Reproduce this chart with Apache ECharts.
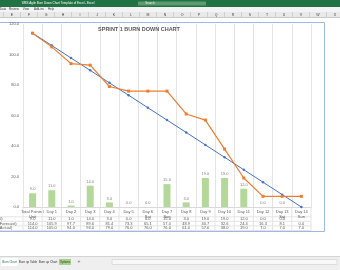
<!DOCTYPE html>
<html><head><meta charset="utf-8">
<script src="https://cdn.jsdelivr.net/npm/echarts@6/dist/echarts.min.js"></script>
<style>html,body{margin:0;padding:0;background:#fff;overflow:hidden}#c{width:340px;height:270px}</style>
</head><body><div id="c"></div>
<script>
const categories = ['Total Points /\nUnit','Day 1','Day 2','Day 3','Day 4','Day 5','Day 6\nSat','Day 7\nSun','Day 8','Day 9','Day 10','Day 11','Day 12','Day 13\nSat','Day 14\nSun'];
const pointsDone = [9, 11, 1, 14, 3, 0, 0, 15, 3, 19, 19, 12, 0, 0, null];
const remainingForecast = [114.0, 105.9, 97.7, 89.6, 81.4, 73.3, 65.1, 57.0, 48.9, 40.7, 32.6, 24.4, 16.3, 8.1, 0.0];
const remainingActual = [114, 105, 94, 93, 79, 76, 76, 76, 61, 57, 38, 19, 7, 7, 7];
const yTicks = [0, 20, 40, 60, 80, 100, 120];
const rowLabels = ['Points Done (Actual)', 'Points Remaining (Forecast)', 'Points Remaining (Actual)'];
const chartTitle = 'SPRINT 1 BURN DOWN CHART';
const columnLetters = ['E','F','G','H','I','J','K','L','M','N','O','P','Q','R','S','T','U','V','W','X'];
const ribbonTabs = ['Data','Review','View','Add-ins','Help'];
const sheetTabs = ['Burn Chart','Burn up Table','Burn up Chart','Options'];
const windowTitle = 'WBS Agile Burn Down Chart Template of Excel - Excel';

const FONT = 'Liberation Sans';
const GREY = '#595959';
const chart = echarts.init(document.getElementById('c'), null, {renderer: 'canvas'});
const fmt = v => (v == null ? '' : Number(v).toFixed(1));

chart.setOption({
  animation: false,
  backgroundColor: '#ffffff',
  grid: {left: 23, right: 29, top: 24, bottom: 63},
  xAxis: {
    type: 'category', data: categories, boundaryGap: true,
    axisLine: {show: true, lineStyle: {color: '#d9d9d9', width: 1}},
    axisTick: {show: false},
    splitLine: {show: true, lineStyle: {color: '#e4e4e4', width: 1}},
    axisLabel: {fontSize: 4, lineHeight: 4.5, color: GREY, margin: 3, fontFamily: FONT, interval: 0}
  },
  yAxis: {
    type: 'value', min: yTicks[0], max: yTicks[yTicks.length - 1], interval: yTicks[1] - yTicks[0],
    axisLine: {show: false}, axisTick: {show: false}, splitLine: {show: false},
    axisLabel: {fontSize: 4, color: GREY, margin: 4, fontFamily: FONT, formatter: v => v.toFixed(1)}
  },
  series: [
    {type: 'bar', name: rowLabels[0], data: pointsDone, barWidth: 7,
     itemStyle: {color: '#b3d89a'},
     label: {show: true, position: 'top', distance: 2, fontSize: 4, color: '#7f7f7f', fontFamily: FONT,
             formatter: p => fmt(p.value)}},
    {type: 'line', name: rowLabels[1], data: remainingForecast, symbol: 'circle', symbolSize: 2.5,
     lineStyle: {color: '#4472c4', width: 1}, itemStyle: {color: '#4472c4'}},
    {type: 'line', name: rowLabels[2], data: remainingActual, symbol: 'rect', symbolSize: 3,
     lineStyle: {color: '#ed7d31', width: 1.2}, itemStyle: {color: '#ed7d31'}}
  ]
});

// ---- graphics: Excel chrome, title, data table ----
const g = [];
const txt = (x, y, s, o) => g.push(Object.assign({type: 'text', silent: true, x, y,
  style: Object.assign({text: s, fontSize: 4, fontFamily: FONT, fill: GREY, align: 'center', verticalAlign: 'middle'}, o || {})}));
const line = (x1, y1, x2, y2, c, w) => g.push({type: 'line', silent: true,
  shape: {x1, y1, x2, y2}, style: {stroke: c, lineWidth: w || 1}});
const rect = (x, y, w, h, fill, stroke) => g.push({type: 'rect', silent: true,
  shape: {x, y, width: w, height: h}, style: {fill, stroke: stroke || null, lineWidth: 1}});

// window title bar
rect(0, 0, 340, 7, '#217346');
txt(58, 3.5, windowTitle, {fill: '#ffffff', fontSize: 3});
rect(138, 1.5, 68, 4, '#5e9b70');
txt(150, 3.5, 'Search', {fill: '#e8f2eb', fontSize: 3});
// ribbon tabs
rect(0, 7, 340, 5, '#f3f3f3');
const ribX = [3, 14, 26, 39, 51];
ribbonTabs.forEach((t, i) => txt(ribX[i], 9.5, t, {fontSize: 3, fill: '#444'}));
// column headers
rect(0, 12, 340, 6, '#e9e9e9');
line(0, 17.5, 340, 17.5, '#c8c8c8');
columnLetters.forEach((c, i) => {
  txt(12 + 17 * i, 15, c, {fontSize: 3.5, fill: '#444'});
  line(3.5 + 17 * i, 12, 3.5 + 17 * i, 17.5, '#cfcfcf');
});

// chart frame
rect(-5, 22.5, 329.5, 209, null, '#9fb8df');

// title
txt(139, 29, chartTitle, {fontSize: 5.5, fontWeight: 'bold', fill: GREY});

// data table
const xs = categories.map((c, i) => chart.convertToPixel({xAxisIndex: 0}, i));
const half = (xs[1] - xs[0]) / 2;
const rowsY = [219, 223.6, 228.2];
const tableRows = [pointsDone, remainingForecast, remainingActual];
[216.8, 221.3, 225.9, 230.5].forEach(y => line(-5, y, xs[xs.length - 1] + half, y, '#e4e4e4'));
xs.forEach(x => line(x - half, 207, x - half, 230.5, '#e4e4e4'));
line(xs[xs.length - 1] + half, 207, xs[xs.length - 1] + half, 230.5, '#e4e4e4');
rowLabels.forEach((lab, r) => txt(-34, rowsY[r], lab, {align: 'left'}));
tableRows.forEach((arr, r) => arr.forEach((v, i) => txt(xs[i], rowsY[r], fmt(v))));

// sheet tab bar
rect(0, 256, 340, 14, '#efefef');
line(0, 256.5, 340, 256.5, '#d4d4d4');
const tabX = [9.5, 28, 48, 65];
const tabW = [17, 17, 17, 12];
sheetTabs.forEach((t, i) => {
  if (i === 3) rect(tabX[i] - tabW[i] / 2, 259, tabW[i], 6, '#a9d18e');
  else if (i === 0) rect(tabX[i] - tabW[i] / 2, 258, tabW[i], 8, '#ffffff');
  txt(tabX[i], 262, t, {fontSize: 3, fill: i === 0 ? '#217346' : '#333'});
});
txt(79, 262, '+', {fontSize: 5, fill: '#666'});
rect(112, 259.5, 225, 5, '#f8f8f8', '#dcdcdc');

chart.setOption({graphic: {elements: g}});
</script>
</body></html>
